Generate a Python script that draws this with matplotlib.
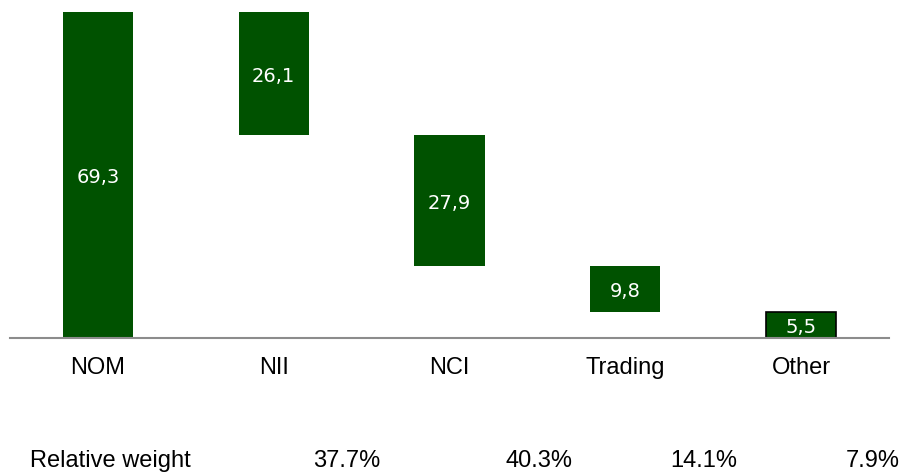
import matplotlib
matplotlib.use("Agg")
import matplotlib.pyplot as plt
import numpy as np

categories = ["NOM", "NII", "NCI", "Trading", "Other"]
values = [69.3, 26.1, 27.9, 9.8, 5.5]
value_labels = ["69,3", "26,1", "27,9", "9,8", "5,5"]
weight_title = "Relative weight"
weights = ["37.7%", "40.3%", "14.1%", "7.9%"]

green = "#005200"

# waterfall: first bar is the total, the rest step down from it
bottoms = [0.0]
level = values[0]
for v in values[1:]:
    level = level - v
    bottoms.append(level)
bottoms = np.round(bottoms, 2)

fig = plt.figure(figsize=(9.04, 4.73), dpi=100)
ax = fig.add_axes([10 / 904, 1 - 338 / 473, 879 / 904, 326 / 473])

x = np.arange(len(categories))
edges = [green] * (len(categories) - 1) + ["black"]
ax.bar(x, values, bottom=bottoms, width=0.4, color=green,
       edgecolor=edges, linewidth=[0] * (len(categories) - 1) + [1.2])

for xi, v, b, lab in zip(x, values, bottoms, value_labels):
    ax.text(xi, b + v / 2 - 0.6, lab, ha="center", va="center",
            color="white", fontsize=14, family="DejaVu Sans")

ax.set_xlim(-0.5, 4.5)
ax.set_ylim(0, 69.3)
for s in ["top", "right", "left"]:
    ax.spines[s].set_visible(False)
ax.spines["bottom"].set_color("#8c8c8c")
ax.spines["bottom"].set_linewidth(1.5)
ax.set_yticks([])
ax.set_xticks(x)
ax.set_xticklabels(categories, fontsize=17, family="Liberation Sans")
ax.tick_params(axis="x", length=0, pad=14)

# relative weight row under the chart
base_y = 1 - 467 / 473
fig.text(30 / 904, base_y, weight_title, ha="left", va="baseline",
         fontsize=17, family="Liberation Sans")
weight_right = [380, 573, 737, 900]
for px, w in zip(weight_right, weights):
    fig.text(px / 904, base_y, w, ha="right", va="baseline",
             fontsize=17, family="Liberation Sans")

fig.savefig("out.png", dpi=100)
